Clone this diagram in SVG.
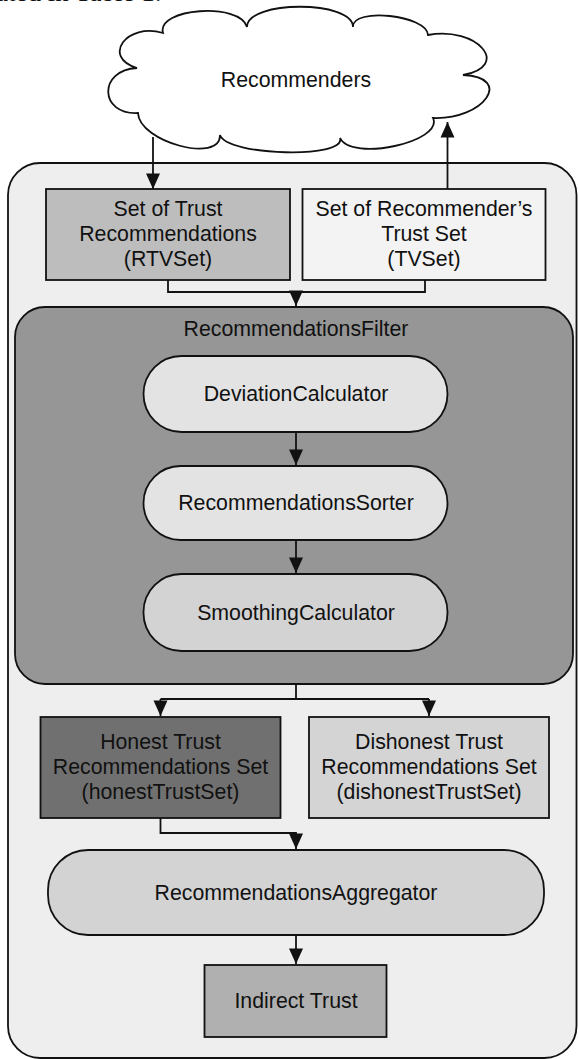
<svg xmlns="http://www.w3.org/2000/svg" width="578" height="1059" viewBox="0 0 578 1059">
  <defs>
    <style>
      .lbl { font-family: "Liberation Sans", Arial, sans-serif; font-size: 21.3px; fill: #111; text-anchor: middle; }
      .shape { stroke: #111; stroke-width: 1.8; }
      .conn { fill: none; stroke: #111; stroke-width: 1.8; }
    </style>
    <marker id="arr" markerUnits="userSpaceOnUse" markerWidth="18" markerHeight="18" viewBox="0 0 18 18" refX="16.5" refY="9" orient="auto">
      <path d="M1,2 L16.5,9 L1,16 Z" fill="#111"/>
    </marker>
  </defs>

  <rect width="578" height="1059" fill="#ffffff"/>
  <text x="-4" y="1" font-family="Liberation Serif, serif" font-size="27" fill="#111">ated in Table 1.</text>

  <g id="container">
    <rect class="shape" x="8" y="163" width="568.5" height="895" rx="32" ry="32" fill="#eeeeee"/>
  </g>

  <g id="recommenders">
    <path class="shape" fill="#ffffff" d="M163,33 C156,8 240,2 247,27 C247,0 353,0 353,27 C352,7 427,15 428,35 C477,26 512,66 463,75 C514,77 484,120 433,118 C444,142 351,162 340,138 C347,159 227,156 220,135 C221,164 139,142 138,113 C99,115 98,70 137,68 C101,57 127,22 163,33 Z"/>
    <text class="lbl" x="296" y="87">Recommenders</text>
  </g>

  <g id="rtvset">
    <rect class="shape" x="46" y="189" width="244" height="91" fill="#bdbdbd"/>
    <text class="lbl" x="168" y="216">Set of Trust</text>
    <text class="lbl" x="168" y="241">Recommendations</text>
    <text class="lbl" x="168" y="266">(RTVSet)</text>
  </g>

  <g id="tvset">
    <rect class="shape" x="302.5" y="189" width="243" height="91" fill="#f3f3f3"/>
    <text class="lbl" x="424" y="216">Set of Recommender’s</text>
    <text class="lbl" x="424" y="241">Trust Set</text>
    <text class="lbl" x="424" y="266">(TVSet)</text>
  </g>

  <g id="filter">
    <rect class="shape" x="15" y="307" width="558" height="377" rx="30" ry="30" fill="#969696"/>
    <text class="lbl" x="296" y="336">RecommendationsFilter</text>
  </g>

  <g id="deviation">
    <rect class="shape" x="143.5" y="356" width="304" height="76" rx="38" ry="38" fill="#e3e3e3"/>
    <text class="lbl" x="296" y="401">DeviationCalculator</text>
  </g>

  <g id="sorter">
    <rect class="shape" x="143.5" y="466" width="304" height="74" rx="37" ry="37" fill="#e3e3e3"/>
    <text class="lbl" x="296" y="510">RecommendationsSorter</text>
  </g>

  <g id="smoothing">
    <rect class="shape" x="143.5" y="574" width="304" height="77" rx="38" ry="38" fill="#d3d3d3"/>
    <text class="lbl" x="296" y="620">SmoothingCalculator</text>
  </g>

  <g id="honest">
    <rect class="shape" x="40.5" y="717" width="240" height="101" fill="#707070"/>
    <text class="lbl" x="160.5" y="749">Honest Trust</text>
    <text class="lbl" x="160.5" y="774">Recommendations Set</text>
    <text class="lbl" x="160.5" y="799">(honestTrustSet)</text>
  </g>

  <g id="dishonest">
    <rect class="shape" x="309" y="717" width="240" height="101" fill="#d4d4d4"/>
    <text class="lbl" x="429" y="749">Dishonest Trust</text>
    <text class="lbl" x="429" y="774">Recommendations Set</text>
    <text class="lbl" x="429" y="799">(dishonestTrustSet)</text>
  </g>

  <g id="aggregator">
    <rect class="shape" x="48" y="850" width="496" height="85" rx="40" ry="40" fill="#d3d3d3"/>
    <text class="lbl" x="296" y="900">RecommendationsAggregator</text>
  </g>

  <g id="indirect">
    <rect class="shape" x="204.5" y="965" width="182" height="72" fill="#b0b0b0"/>
    <text class="lbl" x="296" y="1008">Indirect Trust</text>
  </g>

  <g id="connectors">
    <path class="conn" d="M153,137 V189" marker-end="url(#arr)"/>
    <path class="conn" d="M447.5,189 V122" marker-end="url(#arr)"/>
    <path class="conn" d="M168,280 V292 H425 V280"/>
    <path class="conn" d="M296,292 V306" marker-end="url(#arr)"/>
    <path class="conn" d="M296,432 V465" marker-end="url(#arr)"/>
    <path class="conn" d="M296,540 V573" marker-end="url(#arr)"/>
    <path class="conn" d="M296,684 V699"/>
    <path class="conn" d="M160.5,699 H429"/>
    <path class="conn" d="M160.5,699 V716" marker-end="url(#arr)"/>
    <path class="conn" d="M429,699 V716" marker-end="url(#arr)"/>
    <path class="conn" d="M160.5,818 V833 H296 V849" marker-end="url(#arr)"/>
    <path class="conn" d="M296,935 V964" marker-end="url(#arr)"/>
  </g>
</svg>
